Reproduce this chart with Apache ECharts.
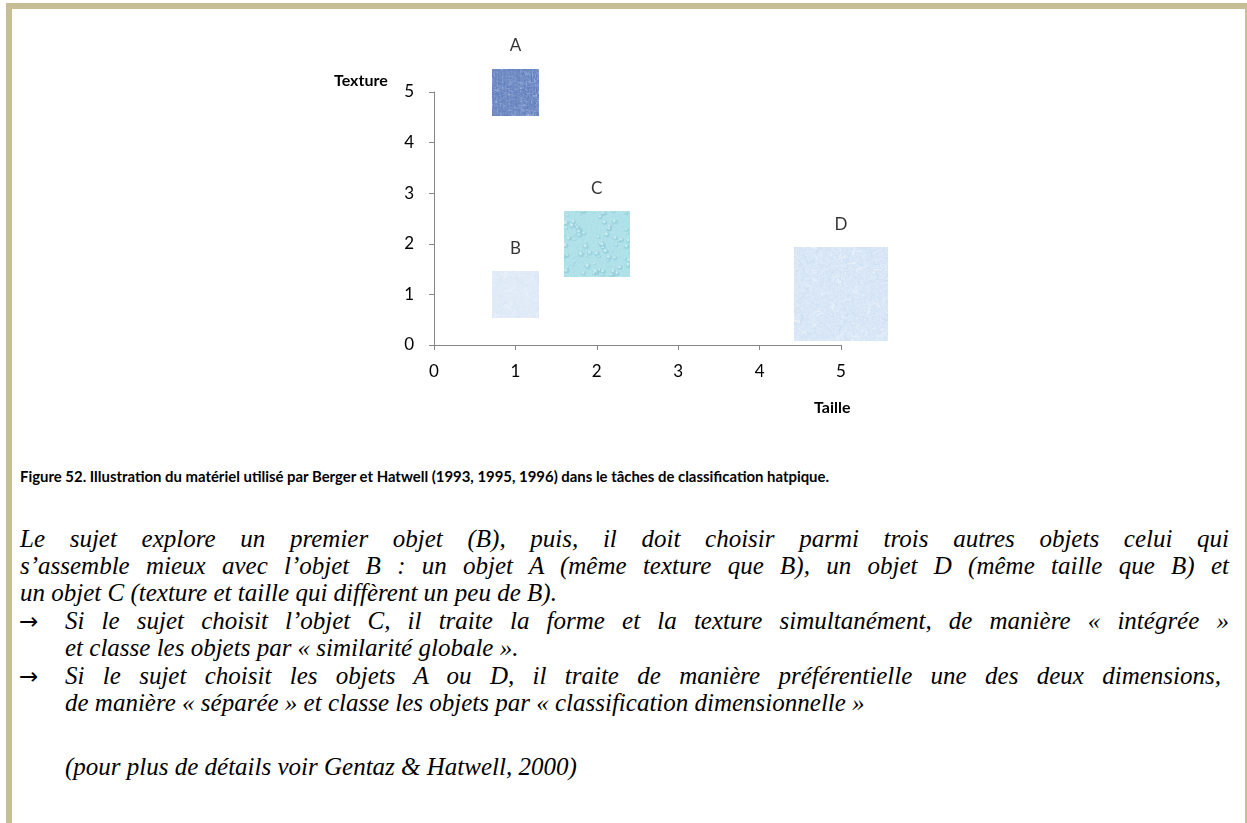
<!DOCTYPE html>
<html><head><meta charset="utf-8">
<script src="https://cdn.jsdelivr.net/npm/echarts/dist/echarts.min.js"></script>
<style>
html,body{margin:0;padding:0;background:#fff;}
body{width:1247px;height:823px;position:relative;overflow:hidden;}
.bd{position:absolute;background:#c7be96;}
#chart{position:absolute;left:0;top:0;width:1247px;height:440px;}
.cap{position:absolute;left:20px;top:466px;font-family:Lato,"Open Sans",sans-serif;font-weight:bold;font-size:15px;line-height:20px;white-space:nowrap;transform-origin:0 50%;color:#000;}
.ln{position:absolute;font-family:"Liberation Serif","Times New Roman",serif;font-style:italic;font-size:25px;line-height:26px;white-space:nowrap;color:#000;}
.j{text-align:justify;text-align-last:justify;white-space:normal;}
.ar{position:absolute;left:19px;font-family:"DejaVu Sans",sans-serif;font-size:23px;line-height:26px;color:#000;}
</style></head>
<body>
<div class="bd" style="left:6px;top:3px;width:1241px;height:6px"></div>
<div class="bd" style="left:6px;top:3px;width:6px;height:820px"></div>
<div class="bd" style="left:1245px;top:3px;width:2px;height:820px"></div>
<div id="chart"></div>
<div class="cap" id="cap">Figure 52. Illustration du matériel utilisé par Berger et Hatwell (1993, 1995, 1996) dans le tâches de classification hatpique.</div>
<div class="ln j" style="left:20px;top:526px;width:1209px">Le sujet explore un premier objet (B), puis, il doit choisir parmi trois autres objets celui qui</div>
<div class="ln j" style="left:20px;top:553px;width:1209px">s’assemble mieux avec l’objet B : un objet A (même texture que B), un objet D (même taille que B) et</div>
<div class="ln" style="left:20px;top:580px">un objet C (texture et taille qui diffèrent un peu de B).</div>
<div class="ar" style="top:608px">→</div>
<div class="ln j" style="left:65px;top:608px;width:1164px">Si le sujet choisit l’objet C, il traite la forme et la texture simultanément, de manière « intégrée »</div>
<div class="ln" style="left:65px;top:635px">et classe les objets par « similarité globale ».</div>
<div class="ar" style="top:663px">→</div>
<div class="ln j" style="left:65px;top:663px;width:1156px">Si le sujet choisit les objets A ou D, il traite de manière préférentielle une des deux dimensions,</div>
<div class="ln" style="left:65px;top:690px">de manière « séparée » et classe les objets par « classification dimensionnelle »</div>
<div class="ln" style="left:65px;top:754px">(pour plus de détails voir Gentaz &amp; Hatwell, 2000)</div>
<script>
// ---- data ----
var objectNames = ['A', 'B', 'C', 'D'];
var tailleValues = [1, 1, 2, 5];
var textureValues = [5, 1, 2, 1];
var bubbleSizes = [1, 1, 2, 4];
var xTicks = [0, 1, 2, 3, 4, 5];
var yTicks = [0, 1, 2, 3, 4, 5];

// ---- caption width fit ----
(function(){
  var c = document.getElementById('cap');
  var w = c.getBoundingClientRect().width;
  c.style.transform = 'scaleX(' + (809 / w) + ')';
})();

// ---- textures (style only, deterministic) ----
function prng(seed){return function(){seed|=0;seed=seed+0x6D2B79F5|0;var t=Math.imul(seed^seed>>>15,1|seed);t=t+Math.imul(t^t>>>7,61|t)^t;return((t^t>>>14)>>>0)/4294967296;};}
function clamp(v){return Math.max(0, Math.min(255, v));}
function makeTex(kind, seed){
  var s = 96, cv = document.createElement('canvas'); cv.width = s; cv.height = s;
  var g = cv.getContext('2d'), r = prng(seed);
  var base = {denim:[78,112,182], pale:[218,231,247], water:[158,218,228], felt:[208,226,245]}[kind];
  var img = g.createImageData(s, s);
  for (var y = 0; y < s; y++) for (var x = 0; x < s; x++) {
    var i = (y * s + x) * 4, n;
    if (kind === 'denim') {
      n = (r() - 0.5) * 80 + (y % 2 === 0 ? 22 * r() : 0) + (x % 3 === 0 ? -20 : 0);
    } else if (kind === 'water') {
      n = (r() - 0.5) * 14;
    } else {
      n = (r() - 0.5) * 20;
    }
    img.data[i] = clamp(base[0] + n);
    img.data[i+1] = clamp(base[1] + n);
    img.data[i+2] = clamp(base[2] + n * 0.5);
    img.data[i+3] = 255;
  }
  g.putImageData(img, 0, 0);
  if (kind === 'water') {
    for (var k = 0; k < 110; k++) {
      var cx = r() * s, cy = r() * s, rad = 1.2 + r() * 3.5;
      g.beginPath(); g.ellipse(cx, cy, rad, rad * 0.8, 0, 0, Math.PI * 2);
      g.fillStyle = 'rgba(112,190,206,0.6)'; g.fill();
      g.beginPath(); g.arc(cx - rad * 0.25, cy - rad * 0.3, rad * 0.5, 0, Math.PI * 2);
      g.fillStyle = 'rgba(215,242,246,0.75)'; g.fill();
    }
  }
  if (kind === 'felt' || kind === 'pale') {
    g.lineWidth = 1;
    for (var k2 = 0; k2 < 90; k2++) {
      g.strokeStyle = r() < 0.5 ? 'rgba(255,255,255,0.5)' : 'rgba(170,200,232,0.35)';
      g.beginPath(); var x0 = r() * s, y0 = r() * s; g.moveTo(x0, y0);
      g.quadraticCurveTo(x0 + (r() - 0.5) * 16, y0 + (r() - 0.5) * 16, x0 + (r() - 0.5) * 20, y0 + (r() - 0.5) * 20);
      g.stroke();
    }
  }
  if (kind === 'denim') {
    g.lineWidth = 1;
    for (var k3 = 0; k3 < 160; k3++) {
      g.strokeStyle = 'rgba(210,225,250,' + (0.25 + r() * 0.35) + ')';
      var xx = Math.floor(r() * s) + 0.5, yy = Math.floor(r() * s) + 0.5, L = 2 + r() * 8;
      g.beginPath();
      if (r() < 0.5) { g.moveTo(xx, yy); g.lineTo(xx + L, yy); } else { g.moveTo(xx, yy); g.lineTo(xx, yy + L); }
      g.stroke();
    }
  }
  return 'image://' + cv.toDataURL('image/png');
}
var textures = [makeTex('denim', 11), makeTex('pale', 23), makeTex('water', 37), makeTex('felt', 51)];

var seriesData = objectNames.map(function(n, i){
  return {name: n, value: [tailleValues[i], textureValues[i], bubbleSizes[i]], symbol: textures[i]};
});

var chart = echarts.init(document.getElementById('chart'), null, {renderer: 'canvas'});
var axisCol = '#868686';
var fontFam = 'Lato, "Open Sans", sans-serif';
chart.setOption({
  animation: false,
  grid: {left: 434, right: 406, top: 92, bottom: 95, containLabel: false},
  xAxis: {
    type: 'value', min: xTicks[0], max: xTicks[xTicks.length - 1], interval: 1,
    axisLine: {show: true, lineStyle: {color: axisCol, width: 1}},
    axisTick: {show: true, length: 5, lineStyle: {color: axisCol}},
    axisLabel: {margin: 18, color: '#000', fontSize: 17, fontFamily: fontFam},
    splitLine: {show: false}
  },
  yAxis: {
    type: 'value', min: yTicks[0], max: yTicks[yTicks.length - 1], interval: 1,
    axisLine: {show: true, onZero: false, lineStyle: {color: axisCol, width: 1}},
    axisTick: {show: true, length: 5, lineStyle: {color: axisCol}},
    axisLabel: {margin: 20, color: '#000', fontSize: 17, fontFamily: fontFam},
    splitLine: {show: false}
  },
  graphic: [
    {type: 'text', left: 334, top: 73, style: {text: 'Texture', font: 'bold 16px ' + fontFam, fill: '#000'}},
    {type: 'text', left: 814, top: 400, style: {text: 'Taille', font: 'bold 16px ' + fontFam, fill: '#000'}}
  ],
  series: [{
    type: 'scatter',
    symbolSize: function(v){ return 47 * Math.sqrt(v[2]); },
    data: seriesData,
    label: {show: true, position: 'top', distance: 14, formatter: '{b}', color: '#000', fontSize: 17, fontFamily: fontFam},
    emphasis: {disabled: true}
  }]
});
</script>
</body></html>
